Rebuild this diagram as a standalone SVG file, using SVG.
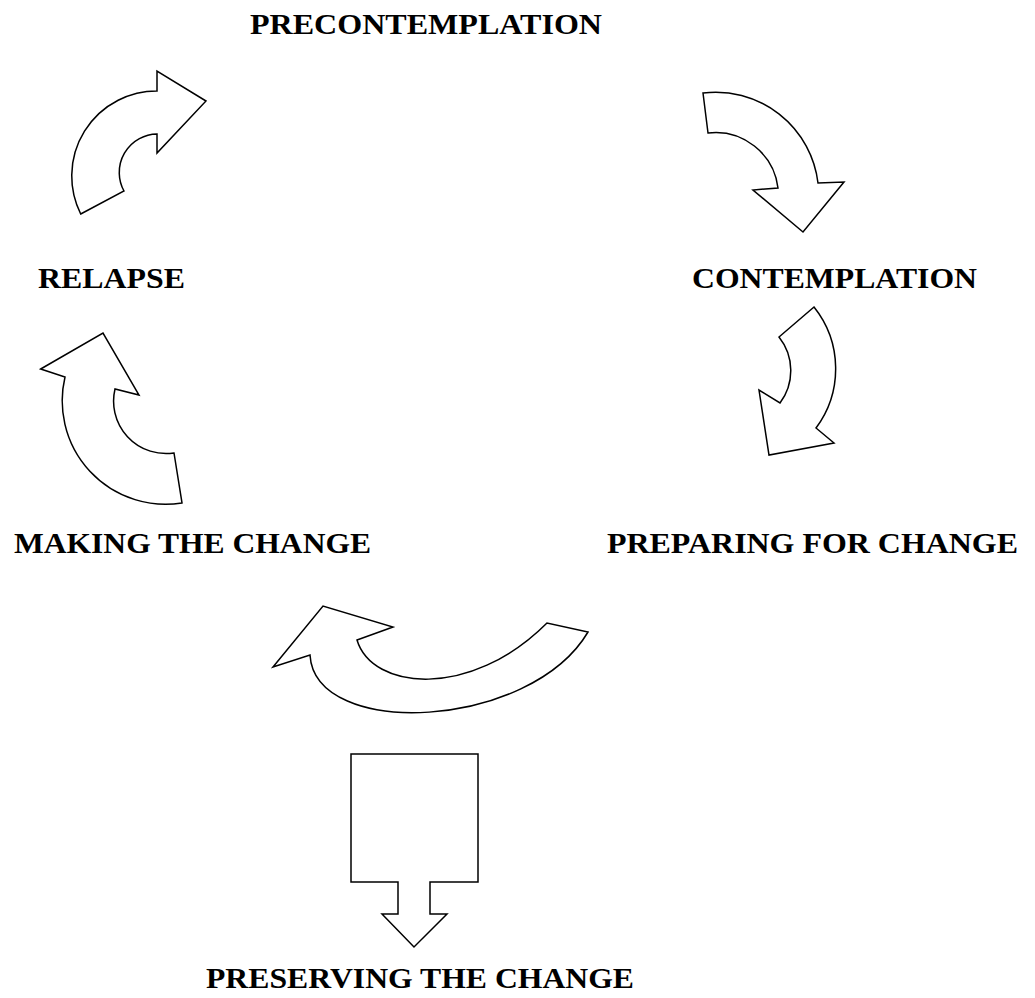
<svg xmlns="http://www.w3.org/2000/svg" width="1035" height="998" viewBox="0 0 1035 998">
  <style>
    .shape { fill: #ffffff; stroke: #000000; stroke-width: 1.5; stroke-linejoin: miter; }
    .label { font-family: "Liberation Serif", "Times New Roman", serif; font-weight: bold; font-size: 29px; fill: #000000; }
  </style>
  <rect width="1035" height="998" fill="#ffffff"/>

  <!-- stage labels -->
  <g id="precontemplation"><text class="label" x="250" y="34" textLength="352" lengthAdjust="spacingAndGlyphs">PRECONTEMPLATION</text></g>
  <g id="contemplation"><text class="label" x="692" y="288" textLength="285" lengthAdjust="spacingAndGlyphs">CONTEMPLATION</text></g>
  <g id="preparing"><text class="label" x="607" y="553" textLength="411" lengthAdjust="spacingAndGlyphs">PREPARING FOR CHANGE</text></g>
  <g id="making"><text class="label" x="14" y="553" textLength="357" lengthAdjust="spacingAndGlyphs">MAKING THE CHANGE</text></g>
  <g id="relapse"><text class="label" x="38" y="288" textLength="147" lengthAdjust="spacingAndGlyphs">RELAPSE</text></g>
  <g id="preserving"><text class="label" x="206" y="988" textLength="428" lengthAdjust="spacingAndGlyphs">PRESERVING THE CHANGE</text></g>

  <!-- curved block arrows of the cycle -->
  <g id="connectors">
    <path class="shape" d="M 80.7,214 L 124,191 A 38.5 38.5 0 0 1 157,134 L 157,153 L 206,101 L 157,71 L 157,91 A 85 85 0 0 0 80.7,214 Z"/>
    <path class="shape" d="M 703,93 A 103 103 0 0 1 818,183 L 844,182 L 803,232 L 753,190 L 778,188 A 63 63 0 0 0 708,133 Z"/>
    <path class="shape" d="M 814,307 L 779,337 A 54 54 0 0 1 780,403 L 759,390 L 769,455 L 834,443 L 816,428 A 99 99 0 0 0 814,307 Z"/>
    <path class="shape" d="M 40.7,369 L 103,333 L 139,395 L 115,389 A 52.5 52.5 0 0 0 174,453 L 182,503 A 103.5 103.5 0 0 1 65,377 Z"/>
    <path class="shape" d="M 273,667 L 323,606 L 393,627 L 357,640 C 372,690 470,700 547,623 L 588,632 C 530,730 315,740 310,655 Z"/>
    <path class="shape" d="M 351,754 H 478 V 882 H 430 V 914 H 447 L 414,947 L 382,914 H 398 V 882 H 351 Z"/>
  </g>
</svg>
